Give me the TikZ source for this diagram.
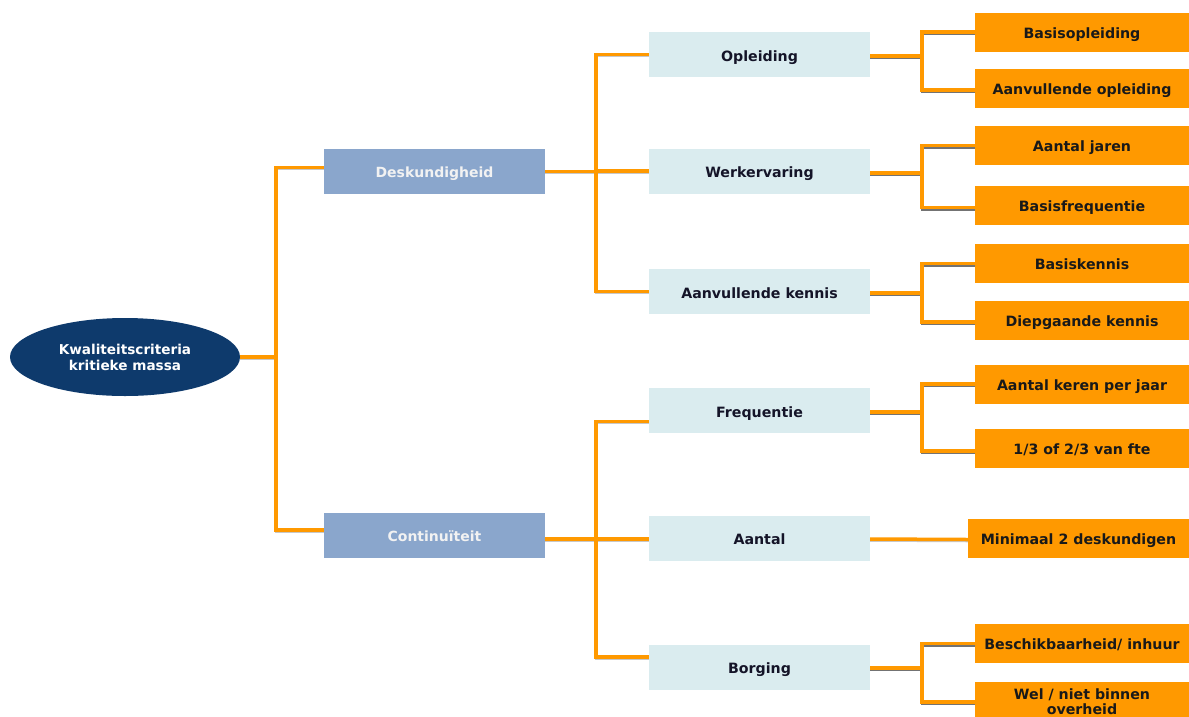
\documentclass[tikz,border=0pt]{standalone}
\usepackage{fontspec}
\setmainfont{DejaVu Sans}
\usetikzlibrary{shapes.geometric}
\definecolor{navy}{HTML}{0E3A6C}
\definecolor{lvlone}{HTML}{8AA6CC}
\definecolor{lvltwo}{HTML}{DAECEF}
\definecolor{orng}{HTML}{FF9900}
\definecolor{txtdark}{HTML}{141428}
\begin{document}
\begin{tikzpicture}[x=1pt,y=-1pt,
  rootnode/.style={ellipse, fill=navy, minimum width=230pt, minimum height=78pt, inner sep=0pt,
    text=white, align=center, font=\bfseries\fontsize{13.6}{16}\selectfont},
  boxone/.style={rectangle, fill=lvlone, minimum width=221pt, minimum height=45pt, inner sep=0pt,
    text height=13pt, text depth=1pt,
    text=white!95!black, font=\bfseries\fontsize{14}{16}\selectfont},
  boxtwo/.style={rectangle, fill=lvltwo, minimum width=221pt, minimum height=45pt, inner sep=0pt,
    text height=13.5pt, text depth=0.5pt,
    text=txtdark, font=\bfseries\fontsize{14.2}{16}\selectfont},
  boxthree/.style={rectangle, fill=orng, minimum width=214pt, minimum height=39pt, inner sep=0pt,
    text height=13pt, text depth=1pt,
    text=black!90, font=\bfseries\fontsize{14.2}{16}\selectfont},
  boxthreetwo/.style={rectangle, fill=orng, minimum width=214pt, minimum height=40pt, inner sep=0pt,
    text=black!90, align=center, font=\bfseries\fontsize{14.2}{16}\selectfont},
  conn/.style={draw=orng, line width=3.5pt,
    preaction={draw=black!22, line width=2.5pt, transform canvas={yshift=-1.5pt}}},
  connr/.style={draw=orng, line width=3.5pt,
    preaction={draw=black!55, line width=2.5pt, transform canvas={yshift=-2pt}}}
]
\clip (0,0) rectangle (1189,716);
\fill[white] (0,0) rectangle (1189,716);

% root
\node[rootnode] (root) at (125,357) {Kwaliteitscriteria\\kritieke massa};

% level 1
\node[boxone] (desk) at (434.5,171.5) {Deskundigheid};
\node[boxone] (cont) at (434.5,535) {Continuïteit};

% level 2
\node[boxtwo] (opl)  at (759.5,54.5)  {Opleiding};
\node[boxtwo] (werk) at (759.5,171)   {Werkervaring};
\node[boxtwo] (aank) at (759.5,291.5) {Aanvullende kennis};
\node[boxtwo] (freq) at (759.5,410.5) {Frequentie};
\node[boxtwo] (aant) at (759.5,538)   {Aantal};
\node[boxtwo] (borg) at (759.5,667)   {Borging};

% level 3
\node[boxthree] (bopl) at (1082,32)    {Basisopleiding};
\node[boxthree] (aopl) at (1082,88.5)  {Aanvullende opleiding};
\node[boxthree] (ajar) at (1082,145.5) {Aantal jaren};
\node[boxthree] (bfrq) at (1082,205.5) {Basisfrequentie};
\node[boxthree] (bken) at (1082,263.5) {Basiskennis};
\node[boxthree] (dken) at (1082,320.5) {Diepgaande kennis};
\node[boxthree] (aker) at (1082,384)   {Aantal keren per jaar};
\node[boxthree] (fte)  at (1082,448.5) {1/3 of 2/3 van fte};
\node[boxthree, minimum width=221pt] (mini) at (1078.5,538.5) {Minimaal 2 deskundigen};
\node[boxthree] (besc) at (1082,643.5) {Beschikbaarheid/ inhuur};
\node[boxthreetwo] (wel) at (1082,702) {\raisebox{-3pt}{Wel / niet binnen}\\[-1pt]\raisebox{-3pt}{overheid}};

% junctions
\coordinate (jroot) at (276,357);
\coordinate (jdesk) at (596,171.5);
\coordinate (jcont) at (596,539);
\coordinate (jopl)  at (922,56);
\coordinate (jwerk) at (922,173);
\coordinate (jaank) at (922,293);
\coordinate (jfreq) at (922,412);
\coordinate (jborg) at (922,668);

% root -> level 1
\draw[conn] (root.east) -- (jroot);
\draw[conn] ([yshift=4pt]desk.west) -| (jroot);
\draw[conn] ([yshift=5pt]cont.west) -| (jroot);

% level 1 -> level 2
\draw[conn] (desk.east) -- (jdesk);
\draw[conn] (opl.west) -| (jdesk);
\draw[conn] (werk.west) -| (jdesk);
\draw[conn] (aank.west) -| (jdesk);
\draw[conn] ([yshift=-4pt]cont.east) -- (jcont);
\draw[conn] ([yshift=-11pt]freq.west) -| (jcont);
\draw[conn] ([yshift=-1pt]aant.west) -| (jcont);
\draw[conn] ([yshift=10pt]borg.west) -| (jcont);

% level 2 -> level 3
\draw[connr] ([yshift=-1.5pt]opl.east) -- (jopl);
\draw[connr] (bopl.west) -| (jopl);
\draw[connr] ([yshift=-1.5pt]aopl.west) -| (jopl);
\draw[connr] ([yshift=-2pt]werk.east) -- (jwerk);
\draw[connr] (ajar.west) -| (jwerk);
\draw[connr] ([yshift=-2pt]bfrq.west) -| (jwerk);
\draw[connr] ([yshift=-1.5pt]aank.east) -- (jaank);
\draw[connr] (bken.west) -| (jaank);
\draw[connr] ([yshift=-1.5pt]dken.west) -| (jaank);
\draw[connr] ([yshift=-1.5pt]freq.east) -- (jfreq);
\draw[connr] (aker.west) -| (jfreq);
\draw[connr] ([yshift=-2.5pt]fte.west) -| (jfreq);
\draw[conn] ([yshift=-1pt]aant.east) -- ([yshift=-1pt]mini.west);
\draw[connr] ([yshift=-1pt]borg.east) -- (jborg);
\draw[connr] (besc.west) -| (jborg);
\draw[connr] (wel.west) -| (jborg);
\end{tikzpicture}
\end{document}
